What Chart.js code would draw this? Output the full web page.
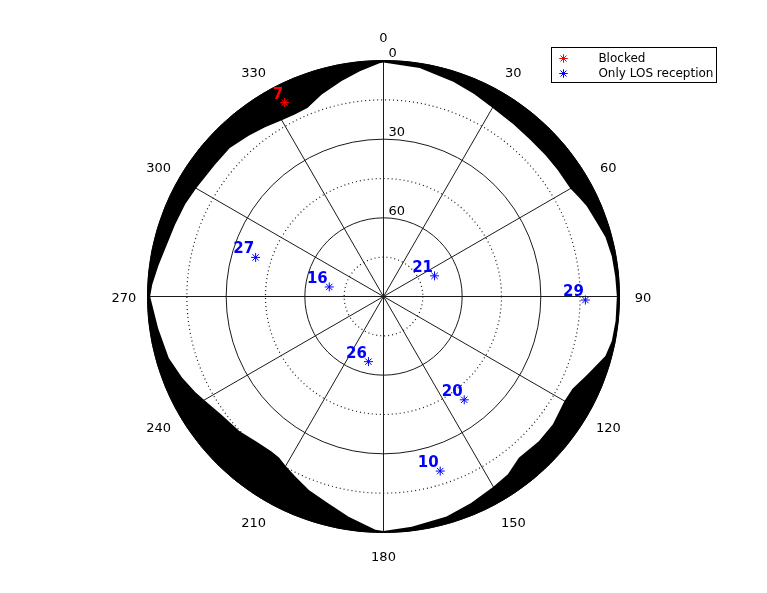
<!DOCTYPE html>
<html>
<head>
<meta charset="utf-8">
<script src="https://cdn.jsdelivr.net/npm/chart.js@4.4.1/dist/chart.umd.min.js"></script>
<style>
  html, body { margin: 0; padding: 0; background: #ffffff; }
  canvas { display: block; }
</style>
</head>
<body>
<canvas id="c" width="767" height="593"></canvas>
<script>
// ---- Azimuth categories (1 degree each), elevation ticks ----
const azimuthLabels = Array.from({ length: 360 }, (_, i) => String(i));
const elevationTicks = [0, 15, 30, 45, 60, 75, 90];

// ---- Obstruction mask (elevation in degrees at sampled azimuths) ----
const maskAz = [0, 9, 18, 24, 30, 37, 43, 49, 54, 60, 63, 66, 70, 75, 80, 85, 90, 96, 101, 105, 111,
  116, 120, 127, 133, 140, 145, 150, 157, 164, 173, 180, 182, 189, 195, 201, 206, 210, 213, 216,
  221, 227, 234, 239, 243, 248, 254, 259, 262, 270, 273, 278, 289, 295, 300, 308, 314, 320, 325,
  330, 334, 338, 343, 349, 354, 359];
const maskEl = [0.8, 1.8, 3.9, 5.4, 6.9, 7.7, 8.1, 8.0, 7.9, 7.7, 6.5, 5.2, 4.2, 2.4, 1.6, 1.3, 1.0,
  1.0, 1.3, 2.4, 6.8, 9.8, 10.3, 9.1, 9.0, 9.7, 7.3, 6.2, 4.5, 2.7, 1.5, 0.6, 1.0, 5.0, 8.4, 10.9,
  13.5, 15.4, 16.8, 17.1, 16.5, 14.8, 13.5, 11.5, 9.5, 7.2, 4.8, 4.0, 3.2, 1.0, 1.7, 3.4, 5.9, 6.6,
  7.5, 8.4, 8.5, 10.0, 11.2, 12.4, 12.8, 12.5, 9.4, 6.3, 3.6, 1.0];

// ---- Satellites ----
const blockedPrn = ['7'];
const blockedAz = [333];
const blockedEl = [7];

const losPrn = ['27', '16', '21', '29', '26', '20', '10'];
const losAz = [287, 280, 68, 91, 193, 142, 162];
const losEl = [39, 69, 69, 13, 64.5, 40, 20];

const seriesNames = ['Blocked', 'Only LOS reception'];

// ---- build per-category arrays for the radar chart ----
function spread(azs, vals) {
  const arr = new Array(azimuthLabels.length).fill(null);
  azs.forEach((a, i) => { arr[a] = vals[i]; });
  return arr;
}
const maskData = spread(maskAz, maskEl);
const outerData = azimuthLabels.map(() => 0);
const blockedData = spread(blockedAz, blockedEl);
const losData = spread(losAz, losEl);
const blockedNames = spread(blockedAz, blockedPrn);
const losNames = spread(losAz, losPrn);

const FONT = 'DejaVu Sans';
Chart.defaults.font.family = FONT;
Chart.defaults.color = '#000';

const extras = {
  id: 'skyplotExtras',
  afterLayout(chart) {
    const lg = chart.legend;
    if (!lg) return;
    const w = lg.width;
    lg.left = 554; lg.right = 554 + w;
    lg.top = 49; lg.bottom = 49 + 40; lg.height = 40;
  },
  beforeDraw(chart) {
    chart.ctx.save();
    chart.ctx.translate(0.5, 0.5);
  },
  afterDatasetsDraw(chart) {
    const ctx = chart.ctx;
    ctx.save();
    ctx.font = 'bold 15px "' + FONT + '"';
    ctx.textAlign = 'right';
    ctx.textBaseline = 'alphabetic';
    [[2, blockedNames], [3, losNames]].forEach(([di, names]) => {
      const meta = chart.getDatasetMeta(di);
      ctx.fillStyle = chart.data.datasets[di].borderColor;
      meta.data.forEach((el, i) => {
        if (names[i] == null || el.skip) return;
        ctx.fillText(names[i], el.x - 1.5, el.y - 4);
      });
    });
    ctx.restore();
  },
  afterDraw(chart) {
    const ctx = chart.ctx;
    const r = chart.scales.r;
    ctx.save();
    ctx.font = '13px "' + FONT + '"';
    ctx.fillStyle = '#000';
    // azimuth labels, centred on a ring at 1.1 x radius
    ctx.textAlign = 'center';
    ctx.textBaseline = 'middle';
    chart.data.labels.forEach((lbl, i) => {
      if (i % 30 !== 0) return;
      const p = r.getPointPosition(i, r.drawingArea * 1.1);
      ctx.fillText(lbl, p.x, p.y + 2);
    });
    // elevation tick labels
    ctx.textAlign = 'left';
    r.ticks.forEach(t => {
      if (t.value % 30 === 0 && t.value < 90) {
        const d = r.getDistanceFromCenterForValue(t.value);
        ctx.fillText(t.label, r.xCenter + 5, r.yCenter - d - 6.5);
      }
    });
    // legend frame
    const lg = chart.legend;
    if (lg && lg.legendHitBoxes && lg.legendHitBoxes.length) {
      let right = 0, bottom = 0;
      lg.legendHitBoxes.forEach(h => {
        right = Math.max(right, h.left + h.width);
        bottom = Math.max(bottom, h.top + h.height);
      });
      const x0 = Math.round(lg.left - 3), y0 = Math.round(lg.top - 2);
      const x1 = Math.round(right + 3), y1 = Math.round(bottom + 3);
      ctx.strokeStyle = '#000';
      ctx.lineWidth = 1;
      ctx.strokeRect(x0, y0, x1 - x0, y1 - y0);
    }
    ctx.restore();
    ctx.restore(); // undo half-pixel translation from beforeDraw
  }
};

new Chart(document.getElementById('c'), {
  type: 'radar',
  data: {
    labels: azimuthLabels,
    datasets: [
      { label: 'outer', data: outerData, borderColor: '#000', borderWidth: 1,
        pointRadius: 0, fill: false, order: 2 },
      { label: 'mask', data: maskData, spanGaps: true, fill: 'end', backgroundColor: '#000',
        borderColor: '#000', borderWidth: 0, pointRadius: 0, order: 3 },
      { label: seriesNames[0], data: blockedData, showLine: false, pointStyle: 'star',
        pointRadius: 4.5, borderColor: '#ff0000', backgroundColor: '#ff0000', pointBorderWidth: 1,
        borderWidth: 1, order: 0 },
      { label: seriesNames[1], data: losData, showLine: false, pointStyle: 'star',
        pointRadius: 4.5, borderColor: '#0000ff', backgroundColor: '#0000ff', pointBorderWidth: 1,
        borderWidth: 1, order: 1 }
    ]
  },
  options: {
    responsive: false,
    devicePixelRatio: 1,
    animation: false,
    events: [],
    layout: { padding: { top: 60, bottom: 61, left: 0, right: 0 } },
    scales: {
      r: {
        min: 0, max: 90, reverse: true,
        ticks: { stepSize: 15, display: false, callback: v => String(v) },
        grid: {
          circular: true, color: '#1a1a1a',
          lineWidth: c => (c.tick && c.tick.value % 30 !== 0) ? 1.2 : 1
        },
        border: { dash: c => (c.tick && c.tick.value % 30 !== 0) ? [1, 3] : [] },
        angleLines: { display: true, color: '#1a1a1a', lineWidth: c => (c.index % 30 === 0 ? 1 : 0) },
        pointLabels: { display: false }
      }
    },
    plugins: {
      tooltip: { enabled: false },
      title: { display: false },
      legend: {
        position: 'chartArea',
        align: 'start',
        labels: {
          usePointStyle: true,
          boxHeight: 6,
          padding: 3,
          color: '#000',
          font: { family: FONT, size: 12 },
          filter: item => item.datasetIndex >= 2,
          generateLabels: chart => Chart.defaults.plugins.legend.labels.generateLabels(chart)
            .map(it => Object.assign(it, { text: '      ' + it.text }))
        }
      }
    }
  },
  plugins: [extras]
});
</script>
</body>
</html>
